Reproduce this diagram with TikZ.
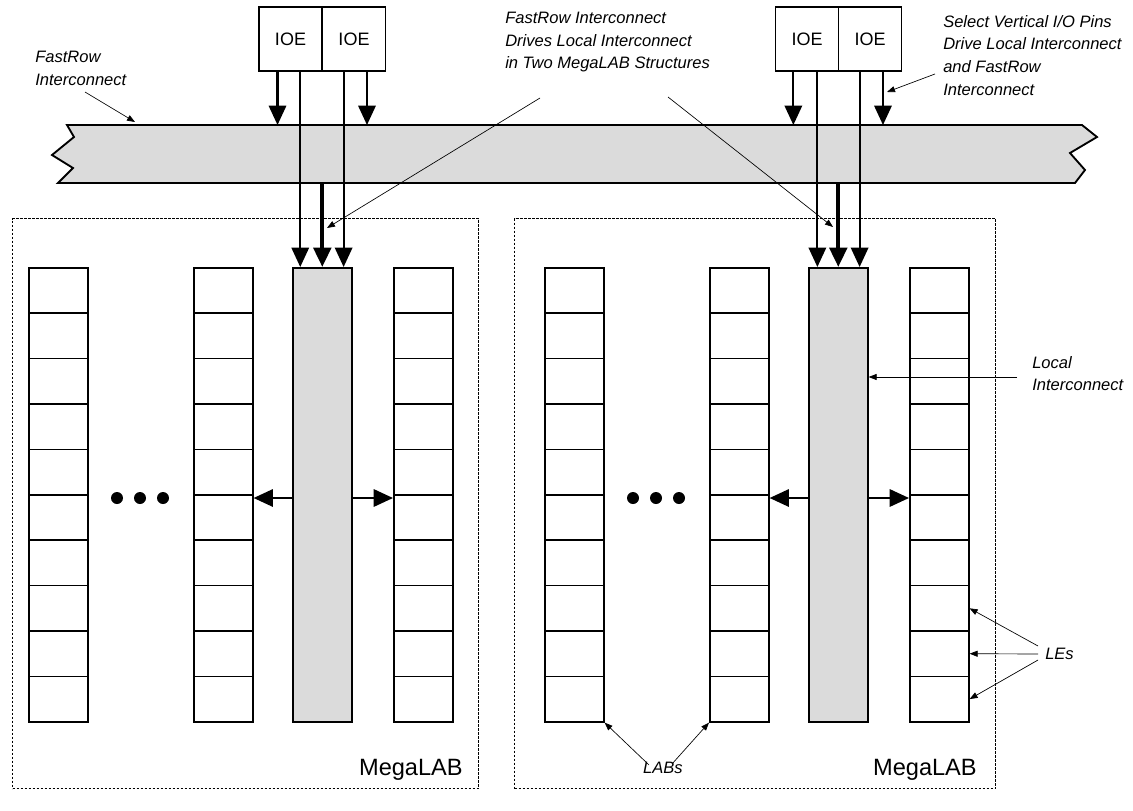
\documentclass[tikz,border=0pt]{standalone}
\usepackage{fontspec}
\setsansfont{Liberation Sans}
\usetikzlibrary{arrows.meta,calc}
\definecolor{busgray}{gray}{0.86}
\begin{document}
\begin{tikzpicture}[x=0.75pt,y=-0.75pt,
  ioe/.style={draw,line width=1.2pt,minimum width=47.5pt,minimum height=48pt,inner sep=0pt,font=\sffamily\fontsize{13.5}{16}\selectfont},
  le/.style={draw,line width=1.2pt,minimum width=44.25pt,minimum height=34.05pt,inner sep=0pt,anchor=north west},
  li/.style={draw,fill=busgray,line width=1.2pt,minimum width=44.25pt,minimum height=340.5pt,inner sep=0pt,anchor=north west},
  megabox/.style={draw,line width=1.1pt,dash pattern=on 2pt off 1pt,inner sep=0pt,anchor=north west},
  mlabel/.style={font=\sffamily\fontsize{17.7}{20}\selectfont,inner sep=0pt},
  dotnode/.style={circle,fill=black,minimum size=9pt,inner sep=0pt},
  bigarrow/.style={-{Triangle[length=14.5pt,width=13pt]},line width=1.6pt},
  thickarrow/.style={-{Triangle[length=14.5pt,width=13pt]},line width=3pt},
  note/.style={font=\sffamily\itshape\fontsize{12.4}{17}\selectfont,align=left,inner sep=0pt},
  notearrow/.style={-{Triangle[length=6pt,width=4.5pt]},line width=0.5pt},
]
\useasboundingbox (0,0) rectangle (1133,811);

% FastRow bus
\draw[line width=1.4pt,fill=busgray] (67,125) -- (1082,125) -- (1097,137) -- (1070,153) -- (1085,170) -- (1075,183) -- (58,183) -- (73,168) -- (52,155) -- (74,137) -- cycle;
\coordinate (bustop) at (0,125);
\coordinate (busbot) at (0,183);
\coordinate (midrow) at (0,498);

% MegaLAB boxes
\node[megabox,minimum width=349.5pt,minimum height=427.5pt] (megaA) at (12,218) {};
\node[megabox,minimum width=360.75pt,minimum height=427.5pt] (megaB) at (514,218) {};
\node[mlabel,anchor=base east] (mltA) at (463,775) {MegaLAB};
\node[mlabel,anchor=base east] (mltB) at (977,775) {MegaLAB};

% LAB columns, local interconnect, dots
\foreach \m/\o in {A/0,B/516} {
  \foreach \c/\x in {1/28,2/193,4/393} {
    \foreach \r in {0,...,9} {
      \node[le] (\m c\c r\r) at ({\x+\o},{267+45.4*\r}) {};
    }
  }
  \node[li] (li\m) at ({292+\o},267) {};
  \foreach \i/\x in {1/117,2/140,3/163} {
    \node[dotnode] (dot\m\i) at ({\x+\o},498) {};
  }
  \draw[bigarrow] (li\m.west |- midrow) -- (\m c2r5.east |- midrow);
  \draw[bigarrow] (li\m.east |- midrow) -- (\m c4r5.west |- midrow);
}

% IOEs
\node[ioe] (ioeA) at (290.5,39) {IOE};
\node[ioe] (ioeB) at (354,39) {IOE};
\node[ioe] (ioeC) at (807,39) {IOE};
\node[ioe] (ioeD) at (870,39) {IOE};

% IOE to FastRow
\draw[bigarrow] ($(ioeA.south west)!0.3!(ioeA.south east)$) coordinate (a1) -- (a1 |- bustop);
\draw[bigarrow] ($(ioeB.south west)!0.7!(ioeB.south east)$) coordinate (a2) -- (a2 |- bustop);
\draw[bigarrow] ($(ioeC.south west)!0.29!(ioeC.south east)$) coordinate (a3) -- (a3 |- bustop);
\draw[bigarrow] ($(ioeD.south west)!0.7!(ioeD.south east)$) coordinate (a4) -- (a4 |- bustop);
% IOE to local interconnect
\draw[bigarrow] ($(ioeA.south west)!0.65!(ioeA.south east)$) coordinate (b1) -- (b1 |- liA.north);
\draw[bigarrow] ($(ioeB.south west)!0.34!(ioeB.south east)$) coordinate (b2) -- (b2 |- liA.north);
\draw[bigarrow] ($(ioeC.south west)!0.66!(ioeC.south east)$) coordinate (b3) -- (b3 |- liB.north);
\draw[bigarrow] ($(ioeD.south west)!0.34!(ioeD.south east)$) coordinate (b4) -- (b4 |- liB.north);
% FastRow to local interconnect
\draw[thickarrow] (liA.north |- busbot) -- (liA.north);
\draw[thickarrow] (liB.north |- busbot) -- (liB.north);

% Labels
\node[note,anchor=north west] (lblFR) at (35,51) {FastRow\\Interconnect};
\node[note,anchor=north west] (lblC) at (505,12) {FastRow Interconnect\\Drives Local Interconnect\\in Two MegaLAB Structures};
\node[note,anchor=north west] (lblR) at (943,15) {Select Vertical I/O Pins\\Drive Local Interconnect\\and FastRow\\Interconnect};
\node[note,anchor=north west] (lblL) at (1032,356) {Local\\Interconnect};
\node[note,anchor=west] (lblLE) at (1045,654) {LEs};
\node[note] (lblLAB) at (663,768) {LABs};

% Annotation arrows
\coordinate (n1s) at (85,92);   \coordinate (n1t) at (135,122);
\coordinate (n2s) at (540,98);  \coordinate (n2t) at (327,228);
\coordinate (n3s) at (668,97);  \coordinate (n3t) at (833,227);
\coordinate (n4s) at (935,74);  \coordinate (n4t) at (887,92);
\coordinate (locy) at (0,377);
\draw[notearrow] (n1s) -- (n1t);
\draw[notearrow] (n2s) -- (n2t);
\draw[notearrow] (n3s) -- (n3t);
\draw[notearrow] (n4s) -- (n4t);
\draw[notearrow] (1017,377) coordinate (n5s) -- (liB.east |- locy);
\draw[notearrow] ($(lblLE.west)+(-7,-8)$) -- (Bc4r7.east);
\draw[notearrow] ($(lblLE.west)+(-7,0)$) -- (Bc4r8.east);
\draw[notearrow] ($(lblLE.west)+(-7,6)$) -- (Bc4r9.east);
\draw[notearrow] ($(lblLAB.north)+(-14,3)$) -- (Bc1r9.south east);
\draw[notearrow] ($(lblLAB.north)+(9,2)$) -- (Bc2r9.south west);
\end{tikzpicture}
\end{document}
